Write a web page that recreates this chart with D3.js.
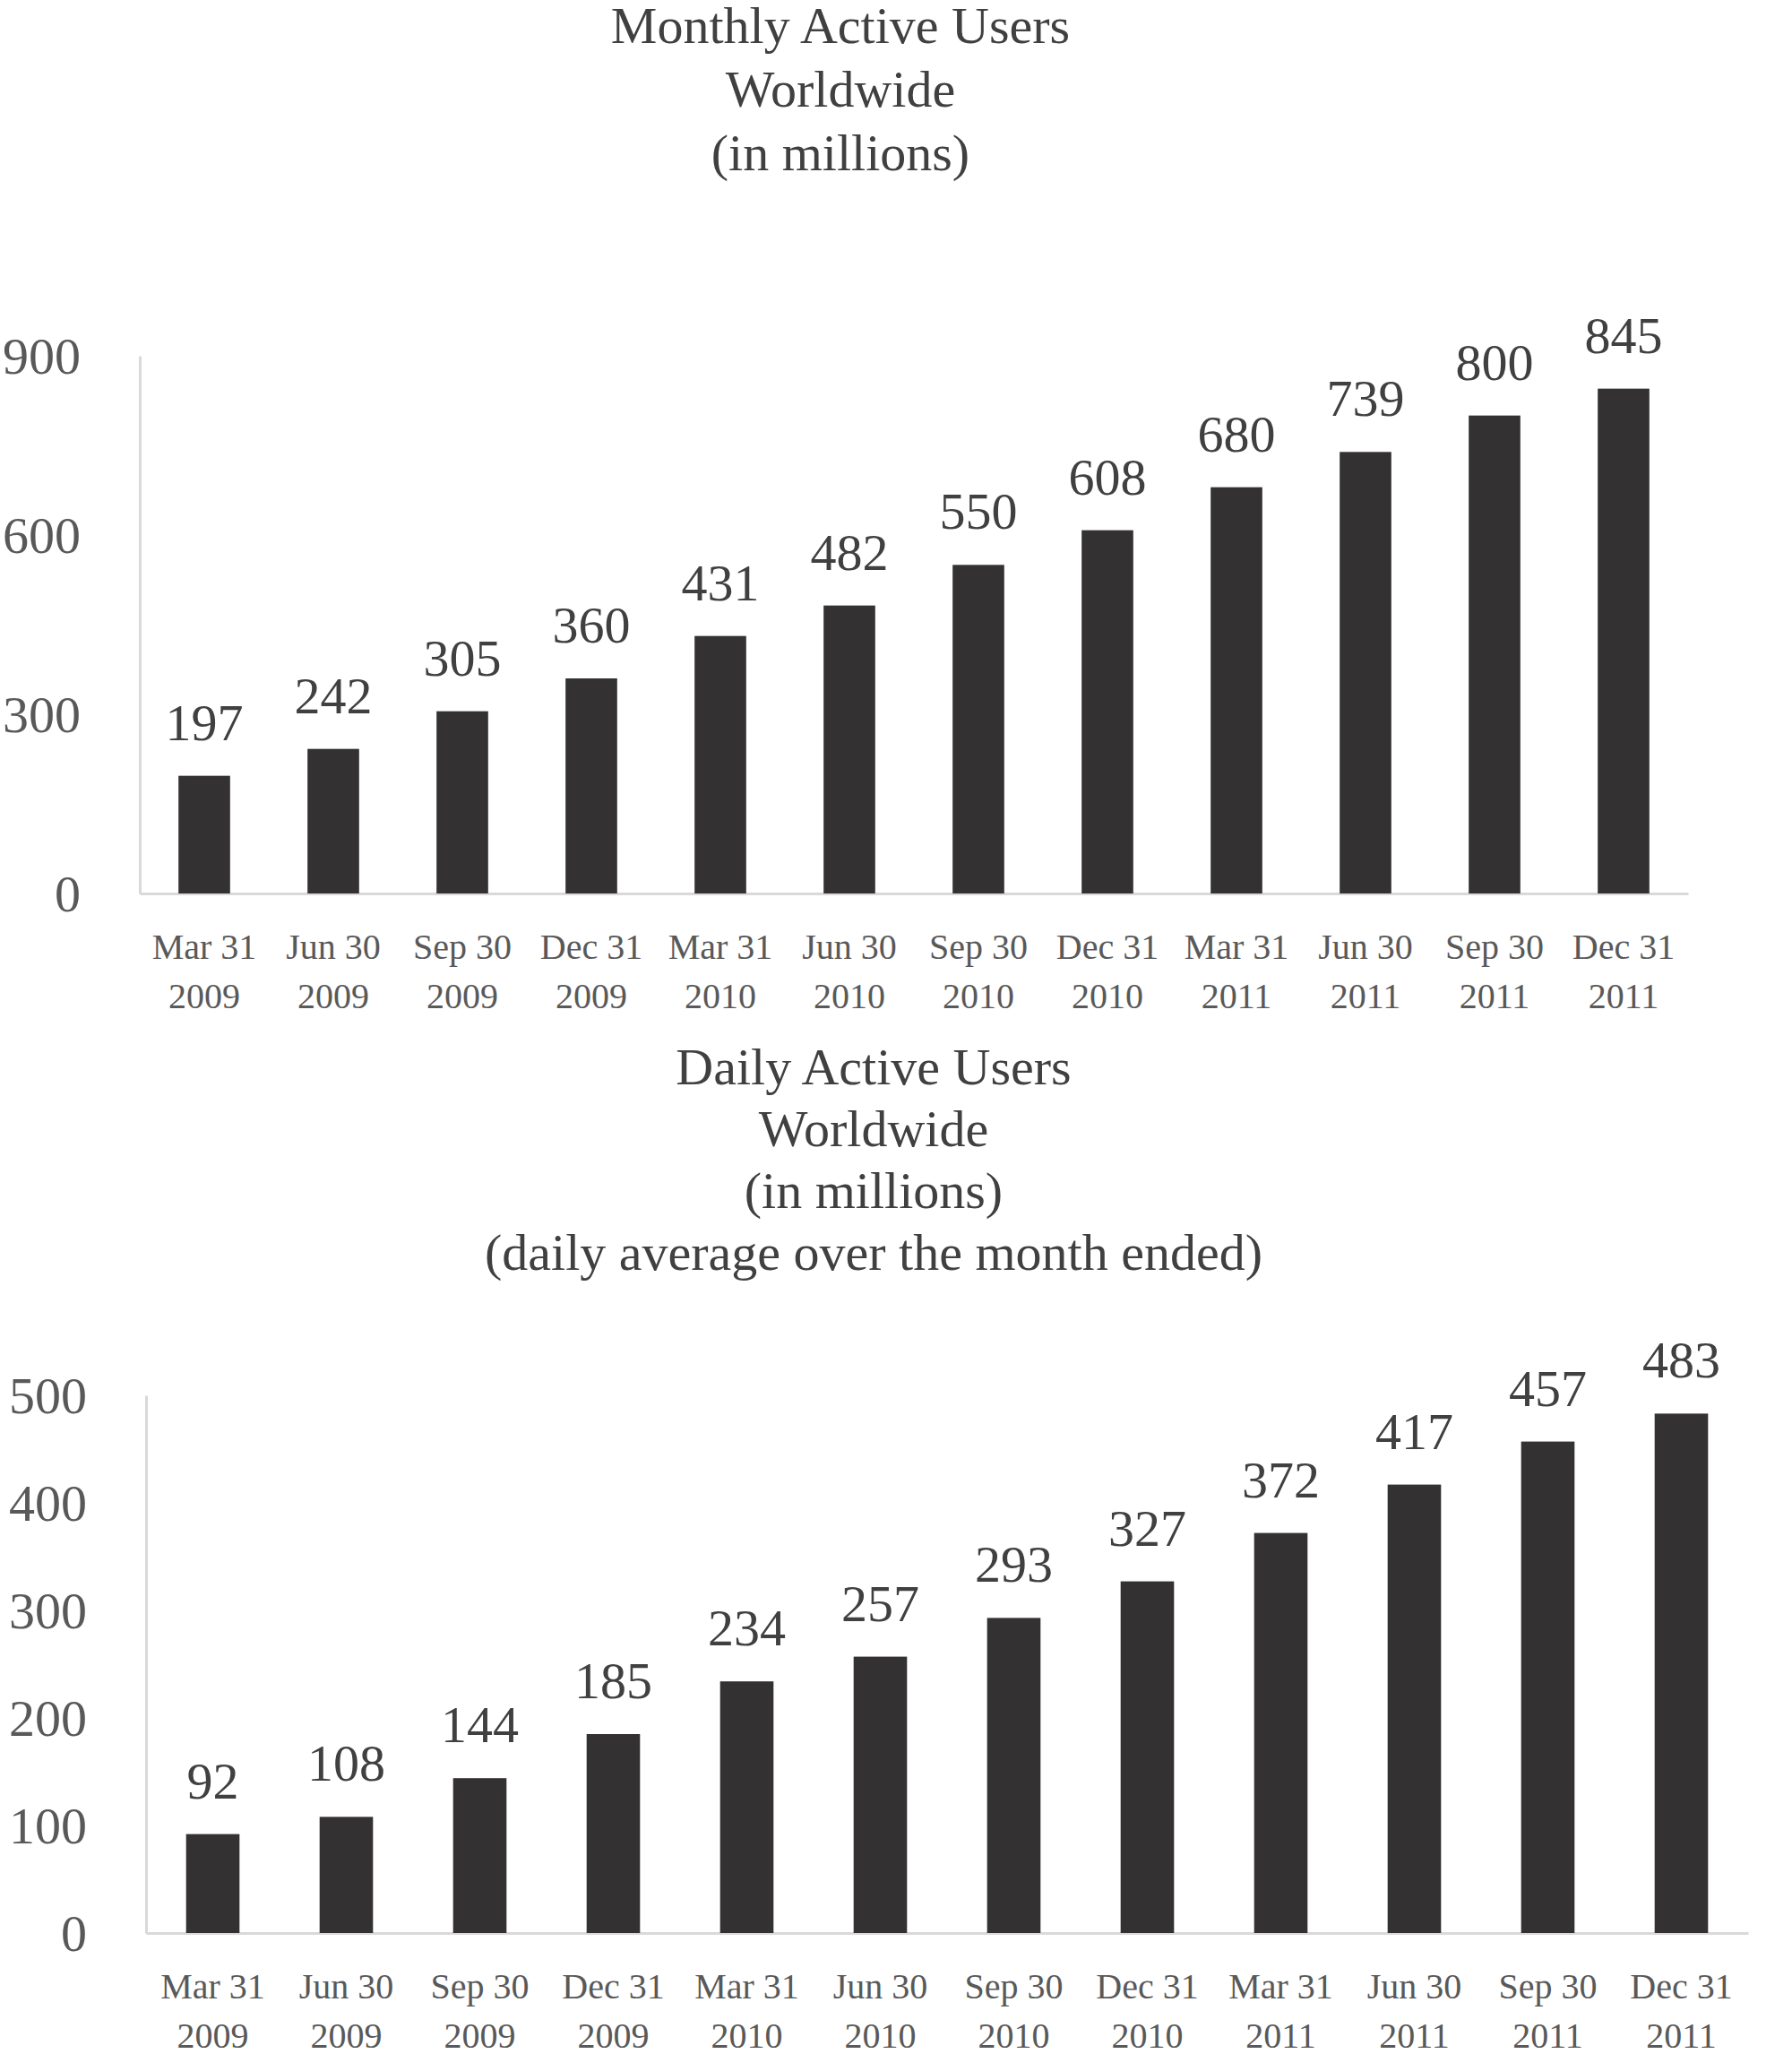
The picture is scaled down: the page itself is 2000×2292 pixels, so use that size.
<!DOCTYPE html>
<html>
<head>
<meta charset="utf-8">
<script src="https://cdn.jsdelivr.net/npm/d3@7/dist/d3.min.js"></script>
<style>
  html, body { margin: 0; padding: 0; background: #fff; }
  svg { display: block; }
  text { font-family: "Liberation Serif", "Times New Roman", serif; }
</style>
</head>
<body>
<svg id="chart" width="2000" height="2292"></svg>
<script>
// ---- data ----
const quarters = ["Mar 31", "Jun 30", "Sep 30", "Dec 31", "Mar 31", "Jun 30", "Sep 30", "Dec 31", "Mar 31", "Jun 30", "Sep 30", "Dec 31"];
const years = ["2009", "2009", "2009", "2009", "2010", "2010", "2010", "2010", "2011", "2011", "2011", "2011"];
const monthlyActiveUsers = [197, 242, 305, 360, 431, 482, 550, 608, 680, 739, 800, 845];
const dailyActiveUsers = [92, 108, 144, 185, 234, 257, 293, 327, 372, 417, 457, 483];
const monthlyTicks = [0, 300, 600, 900];
const dailyTicks = [0, 100, 200, 300, 400, 500];
const monthlyTitle = ["Monthly Active Users", "Worldwide", "(in millions)"];
const dailyTitle = ["Daily Active Users", "Worldwide", "(in millions)", "(daily average over the month ended)"];

const svg = d3.select("#chart");
svg.append("rect").attr("width", 2000).attr("height", 2292).attr("fill", "#fff");

const BAR = "#333132", AXIS = "#d9d9d9", TICKTXT = "#595959", VALTXT = "#404040";

function drawChart(cfg) {
  const cats = cfg.values.map((d, i) => i);
  const x = d3.scaleBand().domain(cats).range([cfg.x0, cfg.x1]).paddingInner(0.6).paddingOuter(0.3);
  const y = d3.scaleLinear().domain([0, cfg.max]).range([cfg.base, cfg.top]);
  const g = svg.append("g");

  // title
  const t = g.append("text").attr("text-anchor", "middle").attr("fill", VALTXT)
    .attr("font-size", 58);
  cfg.title.forEach((line, i) => {
    t.append("tspan").attr("x", cfg.titleX).attr("y", cfg.titleY + i * cfg.titleStep).text(line);
  });

  // y axis
  const ya = g.append("g").attr("transform", `translate(${cfg.x0},0)`)
    .call(d3.axisLeft(y).tickValues(cfg.ticks).tickSize(0).tickPadding(66).tickFormat(d3.format("d")));
  ya.select(".domain").attr("stroke", AXIS).attr("stroke-width", 3);
  ya.selectAll("text").attr("font-size", 58).attr("fill", TICKTXT)
    .attr("font-family", '"Liberation Serif", "Times New Roman", serif').attr("dy", "0.34em");

  // x axis
  const xa = g.append("g").attr("transform", `translate(0,${cfg.base})`)
    .call(d3.axisBottom(x).tickSize(0).tickSizeOuter(0).tickFormat(() => ""));
  xa.select(".domain").attr("stroke", AXIS).attr("stroke-width", 3);
  xa.selectAll(".tick text").each(function(d) {
    const tx = d3.select(this).attr("y", 0).attr("dy", null)
      .attr("font-size", 40).attr("fill", TICKTXT)
      .attr("font-family", '"Liberation Serif", "Times New Roman", serif');
    tx.append("tspan").attr("x", 0).attr("y", 73).text(quarters[d]);
    tx.append("tspan").attr("x", 0).attr("y", 128).text(years[d]);
  });

  // bars
  g.selectAll("rect.bar").data(cfg.values).enter().append("rect")
    .attr("class", "bar")
    .attr("x", (d, i) => x(i))
    .attr("width", x.bandwidth())
    .attr("y", d => y(d))
    .attr("height", d => y(0) - y(d))
    .attr("fill", BAR);

  // value labels
  g.selectAll("text.val").data(cfg.values).enter().append("text")
    .attr("class", "val")
    .attr("x", (d, i) => x(i) + x.bandwidth() / 2)
    .attr("y", d => y(d) - 40)
    .attr("text-anchor", "middle")
    .attr("font-size", 58)
    .attr("fill", VALTXT)
    .text(d => d);
}

drawChart({
  values: monthlyActiveUsers, ticks: monthlyTicks, max: 900,
  x0: 156, x1: 1884, base: 997, top: 397,
  title: monthlyTitle, titleX: 938, titleY: 48, titleStep: 71
});

drawChart({
  values: dailyActiveUsers, ticks: dailyTicks, max: 500,
  x0: 163, x1: 1951, base: 2157, top: 1557,
  title: dailyTitle, titleX: 975, titleY: 1210, titleStep: 69
});
</script>
</body>
</html>
